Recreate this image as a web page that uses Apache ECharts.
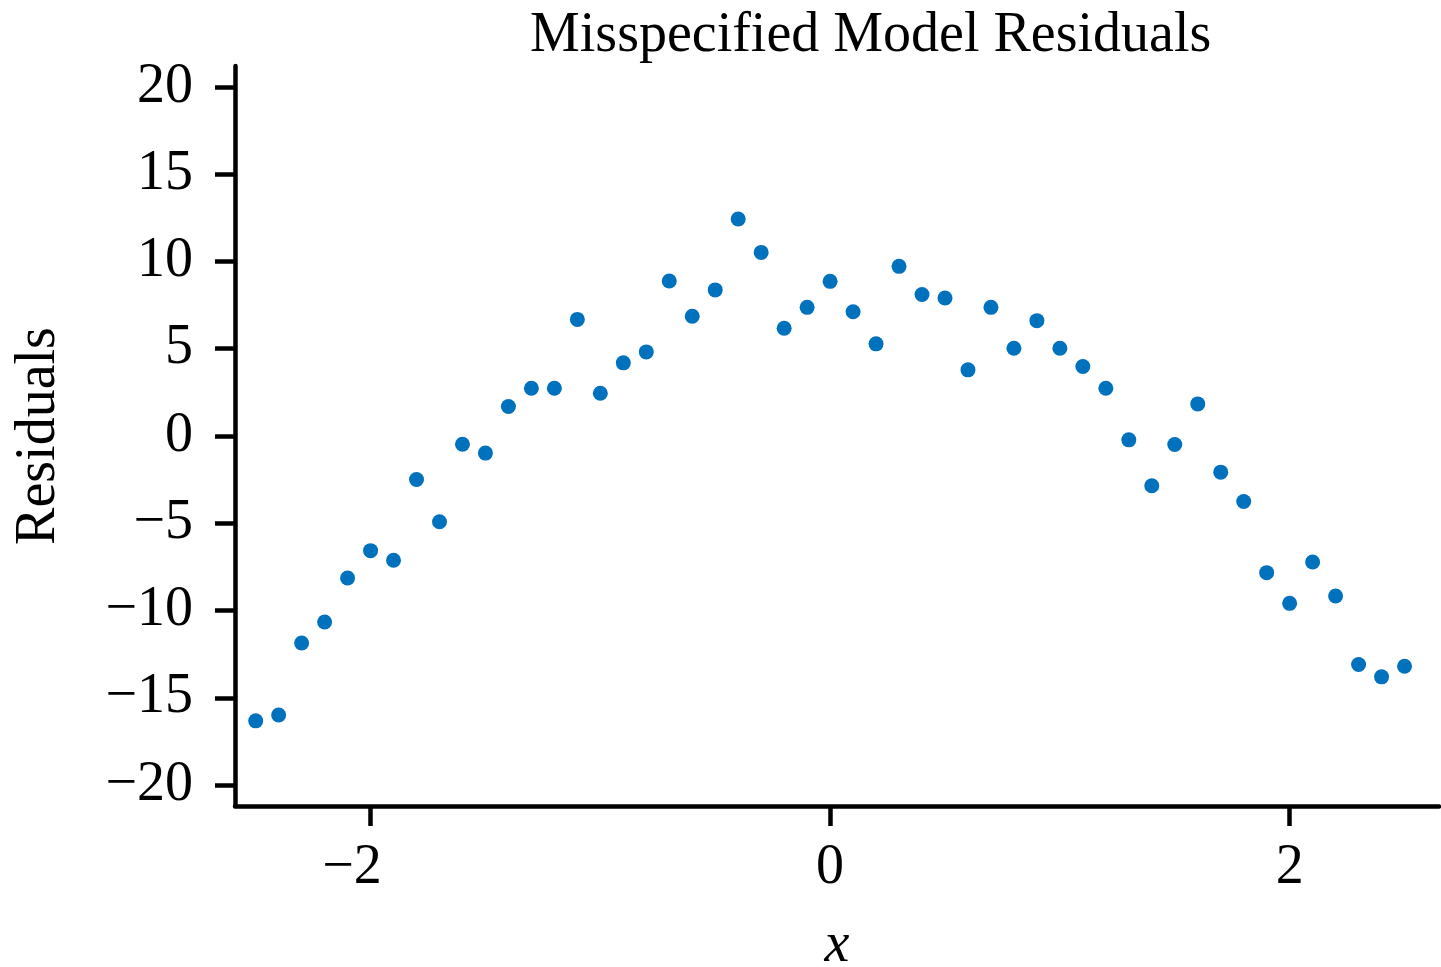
<!DOCTYPE html>
<html>
<head>
<meta charset="utf-8">
<title>Misspecified Model Residuals</title>
<script src="https://cdn.jsdelivr.net/npm/echarts@6/dist/echarts.min.js"></script>
<style>
  html, body { margin: 0; padding: 0; background: #fff; }
  #main { width: 1441px; height: 967px; }
</style>
</head>
<body>
<div id="main"></div>
<script>
// x positions of the observations
var xValues = [
  -2.5, -2.4, -2.3, -2.2, -2.1, -2.0, -1.9, -1.8, -1.7, -1.6,
  -1.5, -1.4, -1.3, -1.2, -1.1, -1.0, -0.9, -0.8, -0.7, -0.6,
  -0.5, -0.4, -0.3, -0.2, -0.1, 0.0, 0.1, 0.2, 0.3, 0.4,
  0.5, 0.6, 0.7, 0.8, 0.9, 1.0, 1.1, 1.2, 1.3, 1.4,
  1.5, 1.6, 1.7, 1.8, 1.9, 2.0, 2.1, 2.2, 2.3, 2.4, 2.5
];
// residuals
var residuals = [
  -16.32, -15.99, -11.86, -10.66, -8.14, -6.57, -7.12, -2.49, -4.91, -0.47,
  -0.98, 1.69, 2.74, 2.74, 6.68, 2.45, 4.19, 4.82, 8.88, 6.86,
  8.37, 12.43, 10.52, 6.17, 7.37, 8.86, 7.12, 5.28, 9.72, 8.11,
  7.91, 3.79, 7.37, 5.03, 6.61, 5.03, 3.98, 2.74, -0.22, -2.85,
  -0.49, 1.84, -2.07, -3.75, -7.83, -9.59, -7.22, -9.17, -13.09, -13.8, -13.19
];
// tick labels
var xTicks = [-2, 0, 2];
var yTicks = [-20, -15, -10, -5, 0, 5, 10, 15, 20];

var FONT = 'Liberation Serif';

function minus(v) {
  return String(v).replace('-', '\u2212');
}

var points = [];
for (var i = 0; i < xValues.length; i++) {
  points.push([xValues[i], residuals[i]]);
}

var myChart = echarts.init(document.getElementById('main'), null, { renderer: 'canvas' });

myChart.setOption({
  backgroundColor: '#fff',
  animation: false,
  title: {
    text: 'Misspecified Model Residuals',
    left: 525,
    top: 3,
    textStyle: { fontFamily: FONT, fontSize: 56, fontWeight: 'normal', color: '#000' }
  },
  // fixed plot box, labels are allowed to sit outside of it
  grid: { left: 235, right: 2, top: 66, bottom: 161, outerBoundsMode: 'none', containLabel: false },
  xAxis: {
    type: 'value',
    min: -2.59,
    max: 2.65,
    name: 'x',
    nameLocation: 'middle',
    nameGap: 112,
    nameTextStyle: { fontFamily: FONT, fontSize: 56, fontStyle: 'italic', color: '#000' },
    axisLine: { onZero: false, lineStyle: { color: '#000', width: 4.5 } },
    axisTick: { customValues: xTicks, length: 20, lineStyle: { color: '#000', width: 4.5 } },
    axisLabel: {
      customValues: xTicks,
      margin: 34,
      fontFamily: FONT,
      fontSize: 56,
      color: '#000',
      formatter: function (v) {
        return v < 0 ? '{n|' + minus(v) + '}' : String(v);
      },
      rich: {
        n: { fontFamily: FONT, fontSize: 56, color: '#000', padding: [0, 37, 0, 0] }
      }
    },
    splitLine: { show: false }
  },
  yAxis: {
    type: 'value',
    min: -21.2,
    max: 21.2,
    name: 'Residuals',
    nameLocation: 'middle',
    nameGap: 168,
    nameTextStyle: { fontFamily: FONT, fontSize: 56, color: '#000' },
    axisLine: { onZero: false, lineStyle: { color: '#000', width: 4.5 } },
    axisTick: { customValues: yTicks, length: 20, lineStyle: { color: '#000', width: 4.5 } },
    axisLabel: {
      customValues: yTicks,
      margin: 42,
      fontFamily: FONT,
      fontSize: 56,
      color: '#000',
      formatter: function (v) { return minus(v); }
    },
    splitLine: { show: false }
  },
  series: [{
    type: 'scatter',
    data: points,
    symbol: 'circle',
    symbolSize: 15,
    itemStyle: { color: '#0072BD', opacity: 1 }
  }]
});
</script>
</body>
</html>
